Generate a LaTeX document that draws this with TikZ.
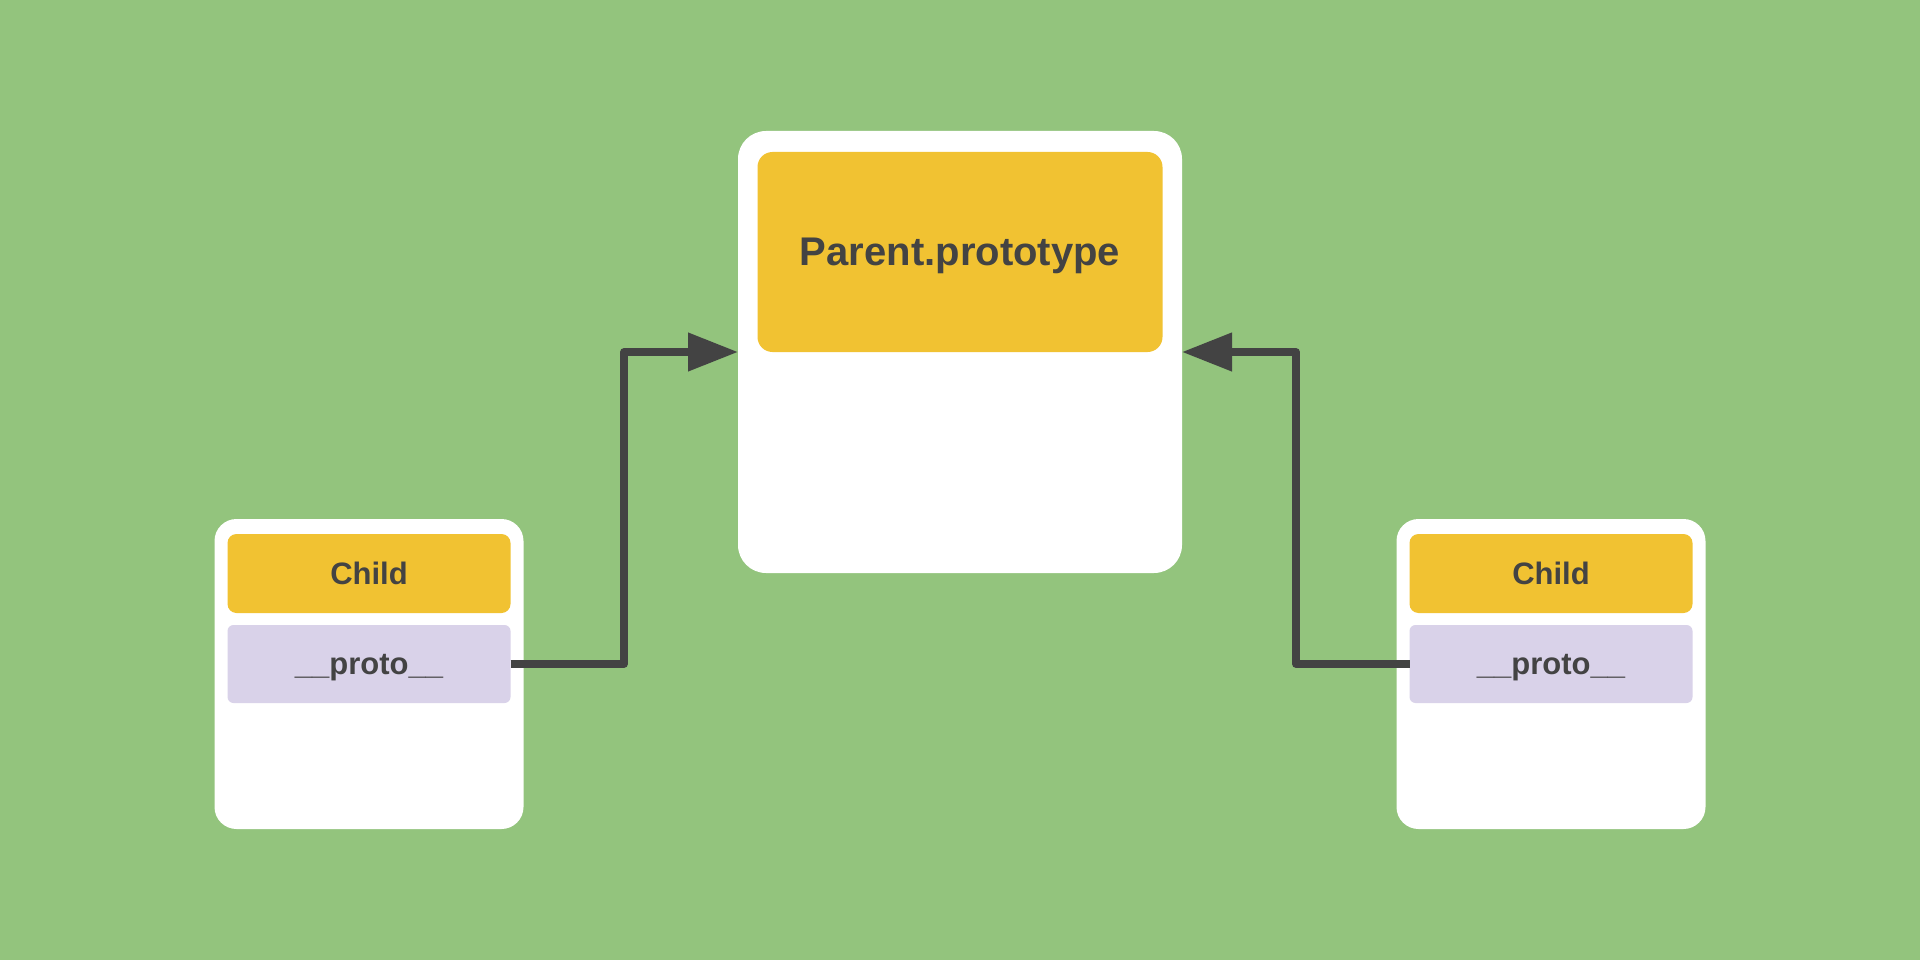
\documentclass[tikz,border=0pt]{standalone}
\usepackage{fontspec}
\setmainfont{Liberation Sans}
\usetikzlibrary{arrows.meta}
\definecolor{leaf}{HTML}{93C47D}
\definecolor{mustard}{HTML}{F1C232}
\definecolor{lilac}{HTML}{D9D2E9}
\definecolor{ink}{HTML}{434343}
\tikzset{
	card/.style={fill=white, rounded corners=22pt, inner sep=0pt, outer sep=0pt},
	slot/.style={inner sep=0pt, outer sep=0pt, text=ink, text depth=0pt,
		font=\bfseries\fontsize{31}{37}\selectfont},
	link/.style={draw=ink, line width=7.5pt, line join=round,
		-{Triangle[length=50pt,width=37pt]}}
}
\begin{document}
\begin{tikzpicture}[x=1pt,y=-1pt]
		\fill[leaf] (0,0) rectangle (1920,960);
		\def\cw{309pt};
		\def\ch{310pt};
		\def\sw{283pt};
		% parent object
		\node[card, rounded corners=28pt, minimum width=444pt, minimum height=442pt] (parent) at (960,352) {};
		\node[slot, fill=mustard, rounded corners=15pt, minimum width=405pt, minimum height=200pt,
			font=\bfseries\fontsize{40}{48}\selectfont] (ptype) at (960,252) {Parent.prototype};
		% left child
		\node[card, minimum width=\cw, minimum height=\ch] (lcard) at (369,674) {};
		\node[slot, fill=mustard, rounded corners=9pt, minimum width=\sw, minimum height=79pt] (lchild) at (369,573.5) {Child};
		\node[slot, fill=lilac, rounded corners=6pt, minimum width=\sw, minimum height=78pt] (lproto) at (369,664) {\_\_proto\_\_};
		% right child
		\node[card, minimum width=\cw, minimum height=\ch] (rcard) at (1551,674) {};
		\node[slot, fill=mustard, rounded corners=9pt, minimum width=\sw, minimum height=79pt] (rchild) at (1551,573.5) {Child};
		\node[slot, fill=lilac, rounded corners=6pt, minimum width=\sw, minimum height=78pt] (rproto) at (1551,664) {\_\_proto\_\_};
		\coordinate (lturn) at (624,664);
		\coordinate (rturn) at (1296,664);
		\draw[link] (lproto.east) -- (lturn) |- (parent.west);
		\draw[link] (rproto.west) -- (rturn) |- (parent.east);
	\end{tikzpicture}
\end{document}
